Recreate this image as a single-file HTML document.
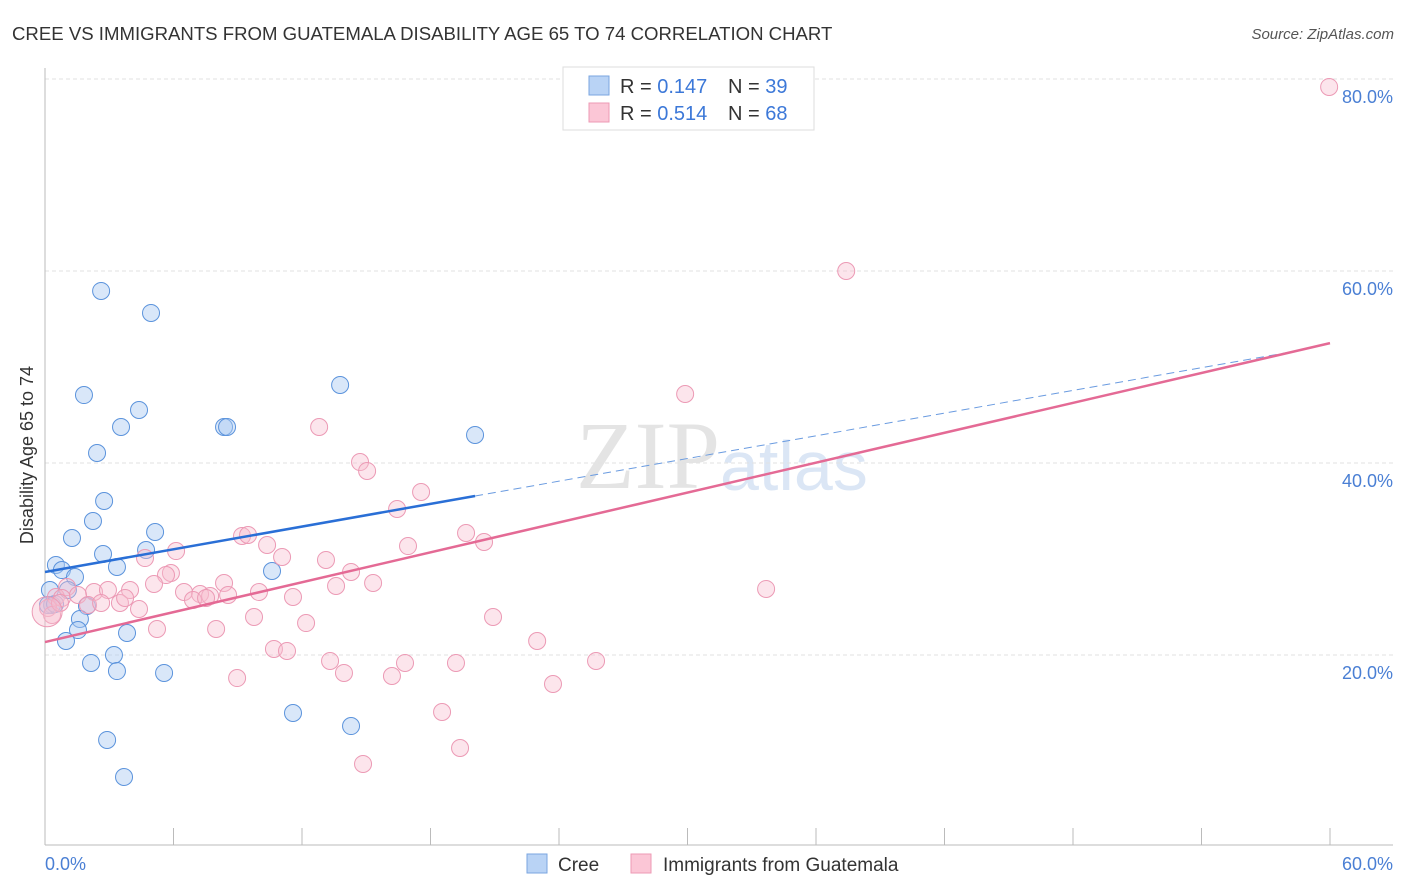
<!DOCTYPE html>
<html><head><meta charset="utf-8"><style>
body{margin:0;background:#fff;font-family:"Liberation Sans",sans-serif;}
svg{display:block}
</style></head><body>
<svg id="chart" width="1406" height="892">
<text x="12" y="40" font-size="18.6" fill="#333">CREE VS IMMIGRANTS FROM GUATEMALA DISABILITY AGE 65 TO 74 CORRELATION CHART</text>
<text x="1394" y="39" font-size="15" fill="#555" font-style="italic" text-anchor="end">Source: ZipAtlas.com</text>
<text x="720" y="488" font-size="96" fill="#e4e4e4" text-anchor="end" font-family="Liberation Serif">ZIP</text>
<text x="720" y="490" font-size="70" fill="#dbe6f5">atlas</text>
<g id="grid"></g>
<g id="axes"></g>
<g id="pts"></g>
<g id="lines"></g>
<text transform="translate(33,455) rotate(-90)" font-size="18" fill="#333" text-anchor="middle">Disability Age 65 to 74</text>
<text x="45" y="870" font-size="18" fill="#4a7fd4">0.0%</text>
<text x="1393" y="870" font-size="18" fill="#4a7fd4" text-anchor="end">60.0%</text>
<g>
<rect x="563" y="67" width="251" height="63" fill="#fff" stroke="#ddd"/>
<rect x="589" y="76" width="20" height="19" fill="#b9d3f5" stroke="#7aa6e0"/>
<rect x="589" y="103" width="20" height="19" fill="#fbc6d6" stroke="#ee9ab4"/>
<text x="620" y="93" font-size="20" fill="#333">R = <tspan fill="#3c78d8">0.147</tspan></text>
<text x="728" y="93" font-size="20" fill="#333">N = <tspan fill="#3c78d8">39</tspan></text>
<text x="620" y="120" font-size="20" fill="#333">R = <tspan fill="#3c78d8">0.514</tspan></text>
<text x="728" y="120" font-size="20" fill="#333">N = <tspan fill="#3c78d8">68</tspan></text>
</g>
<g>
<rect x="527" y="854" width="20" height="19" fill="#b9d3f5" stroke="#7aa6e0"/>
<text x="558" y="871" font-size="19" fill="#333">Cree</text>
<rect x="631" y="854" width="20" height="19" fill="#fbc6d6" stroke="#ee9ab4"/>
<text x="663" y="871" font-size="19" fill="#333">Immigrants from Guatemala</text>
</g>
</svg>
<script>
const yTicks=[20,40,60,80];
const yTickLabels=["20.0%","40.0%","60.0%","80.0%"];
const xTicks=[0,6,12,18,24,30,36,42,48,54,60];
const creeX=[2.62,4.95,1.82,4.39,3.55,8.36,8.50,13.78,20.08,2.43,2.76,2.24,1.26,5.14,2.71,4.72,0.51,0.79,3.36,1.40,10.60,0.23,1.07,1.96,0.33,1.63,1.54,3.83,0.98,3.22,2.15,3.36,5.56,11.58,14.29,2.90,3.69,0.14,0.47];
const creeY=[57.92,55.63,47.08,45.52,43.75,43.75,43.75,48.13,42.92,41.04,36.04,33.96,32.19,32.81,30.52,30.94,29.38,28.85,29.17,28.13,28.75,26.77,26.77,25.10,25.21,23.75,22.60,22.29,21.46,20.0,19.17,18.33,18.13,13.96,12.60,11.15,7.29,25.21,25.31];
const guatX=[59.96,37.41,29.89,12.80,14.71,15.04,17.56,16.44,19.66,20.50,16.95,9.20,9.48,10.37,6.12,4.67,11.07,13.12,5.88,14.29,5.65,5.09,15.32,8.36,13.59,1.03,2.29,2.94,3.97,6.49,7.24,7.71,8.55,9.99,11.58,0.51,0.79,1.54,2.01,2.62,3.50,3.74,6.91,7.52,4.39,9.76,12.19,20.92,7.99,5.23,22.98,10.69,11.30,13.31,16.81,19.19,25.73,13.96,16.20,8.97,23.72,18.54,19.38,14.85,33.67,0.14,0.33,0.70];
const guatY=[79.17,60.0,47.19,43.75,40.10,39.17,36.98,35.21,32.71,31.77,31.35,32.40,32.50,31.46,30.83,30.10,30.21,29.90,28.54,28.65,28.33,27.40,27.50,27.50,27.19,27.08,26.56,26.77,26.77,26.56,26.35,26.15,26.25,26.56,26.04,26.04,25.94,26.25,25.21,25.42,25.42,25.94,25.73,25.94,24.79,23.96,23.33,23.96,22.71,22.71,21.46,20.63,20.42,19.38,19.17,19.17,19.38,18.13,17.81,17.60,16.98,14.06,10.31,8.65,26.88,24.90,24.17,25.42];
const creeTrend=[28.65,0.394,20.08];
const guatTrend=[21.35,0.519];
const NS="http://www.w3.org/2000/svg";
const sx=v=>45+v/60*1285, sy=v=>847-v*9.6;
function mk(t,a,p){const e=document.createElementNS(NS,t);for(const k in a)e.setAttribute(k,a[k]);p.appendChild(e);return e;}
const grid=document.getElementById('grid'),axes=document.getElementById('axes'),pts=document.getElementById('pts'),lines=document.getElementById('lines');
yTicks.forEach((t,i)=>{
 const l=mk('line',{x1:45,x2:1393,y1:sy(t),y2:sy(t),stroke:'#e2e2e2','stroke-dasharray':'4,3'},grid);
 
 
 const tx=mk('text',{x:1393,y:sy(t)+24,'font-size':18,fill:'#4a7fd4','text-anchor':'end'},grid);
 tx.textContent=yTickLabels[i];
 
 
});
const ya=mk('line',{x1:45,x2:45,y1:68,y2:845,stroke:'#bbb'},axes);


const xa=mk('line',{x1:45,x2:1393,y1:845,y2:845,stroke:'#bbb'},axes);


xTicks.forEach(t=>{const l=mk('line',{x1:sx(t),x2:sx(t),y1:828,y2:845,stroke:'#bbb'},axes);
 
 });
creeX.forEach((x,i)=>{const c=mk('circle',{cx:sx(x),cy:sy(creeY[i]),r:8.5,fill:'rgba(170,202,242,0.45)',stroke:'#5b93dc','stroke-width':1},pts);
 
 });
guatX.forEach((x,i)=>{const c=mk('circle',{cx:sx(x),cy:sy(guatY[i]),r:8.5,fill:'rgba(248,190,208,0.4)',stroke:'#ec9ab5','stroke-width':1},pts);
 
 });
const big=mk('circle',{cx:sx(0.1),cy:sy(24.5),r:15,fill:'rgba(248,190,208,0.4)',stroke:'#ec9ab5'},pts);


const bf=x=>creeTrend[0]+creeTrend[1]*x, pf=x=>guatTrend[0]+guatTrend[1]*x;
const l1=mk('line',{x1:sx(0),y1:sy(bf(0)),x2:sx(creeTrend[2]),y2:sy(bf(creeTrend[2])),stroke:'#2a6fd6','stroke-width':2.5},lines);


const l2=mk('line',{x1:sx(creeTrend[2]),y1:sy(bf(creeTrend[2])),x2:sx(58),y2:sy(bf(58)),stroke:'#6a9be0','stroke-width':1,'stroke-dasharray':'8,5'},lines);


const l3=mk('line',{x1:sx(0),y1:sy(pf(0)),x2:sx(60),y2:sy(pf(60)),stroke:'#e46a95','stroke-width':2.5},lines);


</script>
</body></html>
